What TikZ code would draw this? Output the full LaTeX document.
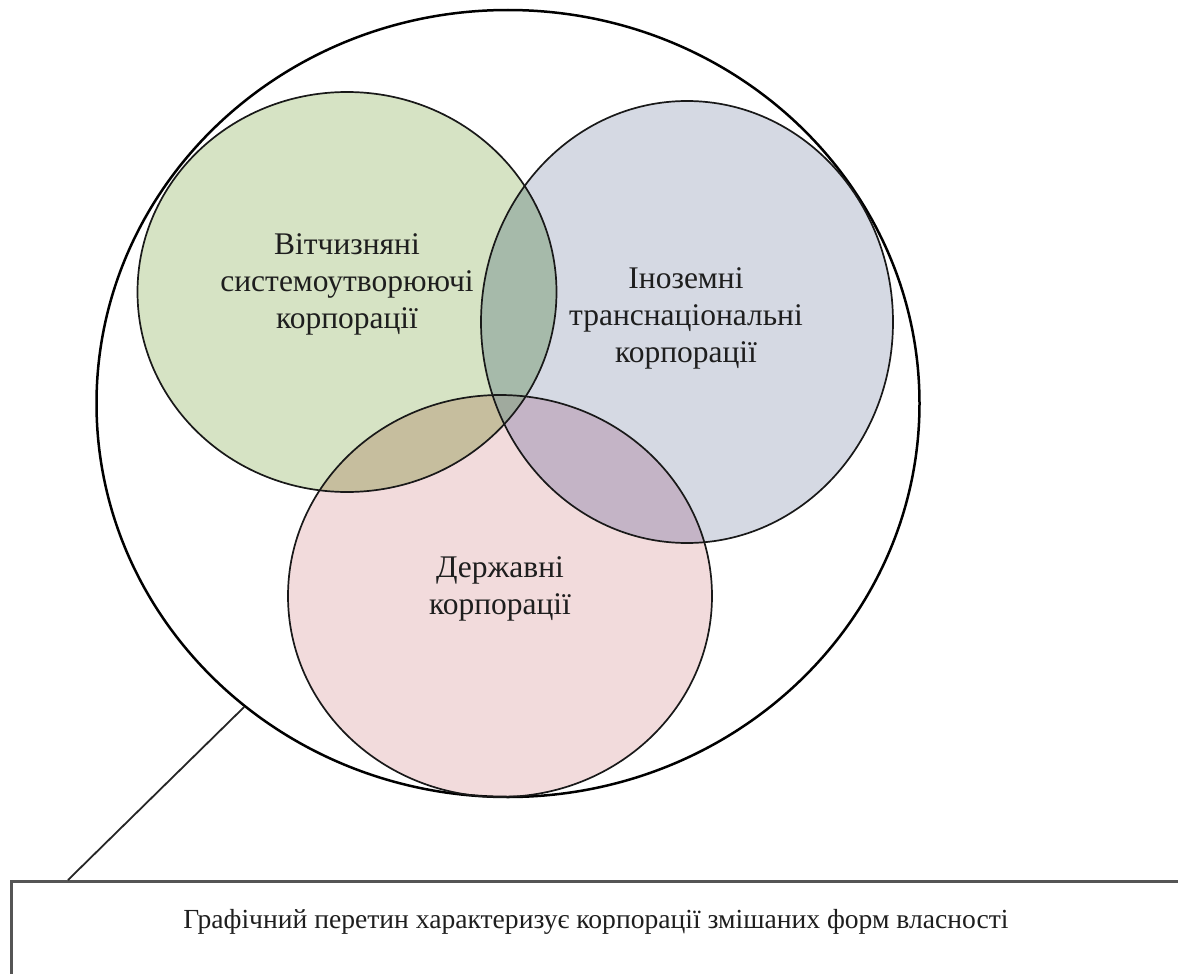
\documentclass[tikz,border=0pt]{standalone}
\usepackage{fontspec}
\setmainfont{Liberation Serif}
\usetikzlibrary{shapes.geometric}
\definecolor{gfill}{RGB}{214,227,196}
\definecolor{bfill}{RGB}{213,217,227}
\definecolor{pfill}{RGB}{242,219,220}
\definecolor{gbfill}{RGB}{166,186,170}
\definecolor{gpfill}{RGB}{198,190,158}
\definecolor{bpfill}{RGB}{196,180,198}
\definecolor{gbpfill}{RGB}{160,170,158}
\definecolor{boxline}{RGB}{85,85,85}
\definecolor{txt}{RGB}{30,30,30}
\begin{document}
\begin{tikzpicture}[x=1pt,y=-1pt,
  setbox/.style={ellipse, draw=black!90, line width=1.7pt, inner sep=0pt},
  outerset/.style={ellipse, draw=black, line width=2.5pt, inner sep=0pt},
  lbl/.style={align=center, text=txt, font=\fontsize{31.5}{37}\selectfont},
  note/.style={text=txt, font=\fontsize{27.6}{32}\selectfont},
  link/.style={draw=black!85, line width=1.8pt}]
\useasboundingbox (0,0) rectangle (1178,974);
\clip (0,0) rectangle (1178,974);
% fills
\fill[gfill] (347,292) ellipse [x radius=209.5, y radius=200];
\fill[bfill] (687,322) ellipse [x radius=206, y radius=221];
\fill[pfill] (500,596) ellipse [x radius=212, y radius=201];
\begin{scope}
  \clip (347,292) ellipse [x radius=209.5, y radius=200];
  \fill[gbfill] (687,322) ellipse [x radius=206, y radius=221];
  \fill[gpfill] (500,596) ellipse [x radius=212, y radius=201];
\end{scope}
\begin{scope}
  \clip (687,322) ellipse [x radius=206, y radius=221];
  \fill[bpfill] (500,596) ellipse [x radius=212, y radius=201];
\end{scope}
\begin{scope}
  \clip (347,292) ellipse [x radius=209.5, y radius=200];
  \clip (687,322) ellipse [x radius=206, y radius=221];
  \fill[gbpfill] (500,596) ellipse [x radius=212, y radius=201];
\end{scope}
% outlines as nodes
\node[outerset, minimum width=823pt, minimum height=787pt] (outer) at (508,403.5) {};
\node[setbox, minimum width=419pt, minimum height=400pt] (dom) at (347,292) {};
\node[setbox, minimum width=412pt, minimum height=442pt] (for) at (687,322) {};
\node[setbox, minimum width=424pt, minimum height=402pt] (state) at (500,596) {};
% labels
\node[lbl] (domtext) at (347,284) {Вітчизняні\\системоутворюючі\\корпорації};
\node[lbl] (fortext) at (686,318) {Іноземні\\транснаціональні\\корпорації};
\node[lbl] (statetext) at (500,589) {Державні\\корпорації};
% note box
\node[draw=boxline, line width=2.5pt, anchor=north west, minimum width=1200pt, minimum height=120pt, inner sep=0pt] (box) at (10,880) {};
\node[note, anchor=base] (notetext) at (596,928) {Графічний перетин характеризує корпорації змішаних форм власності};
\coordinate (boxtop) at (68,880);
\draw[link] (outer.229.2) -- (boxtop);
\end{tikzpicture}
\end{document}
